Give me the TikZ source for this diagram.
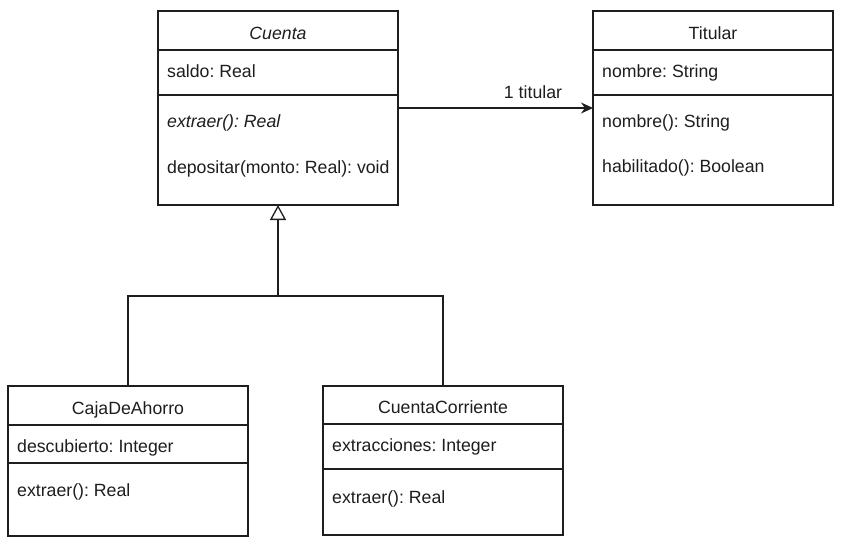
\documentclass[tikz,border=0pt]{standalone}
\usepackage{fontspec}
\setmainfont{Liberation Sans}
\usetikzlibrary{arrows.meta}
\definecolor{ink}{HTML}{1E1E1E}
\frenchspacing
\begin{document}
\begin{tikzpicture}[x=1pt,y=-1pt,
  box/.style={draw=ink, line width=1.3pt, rectangle, inner sep=0pt, outer sep=0pt, minimum width=240pt, anchor=north west},
  sepline/.style={draw=ink, line width=1.3pt},
  txt/.style={anchor=base west, inner sep=0pt, font=\fontsize{17.7}{21}\selectfont\frenchspacing, text=ink},
  ttl/.style={anchor=base, inner sep=0pt, font=\fontsize{17.7}{21}\selectfont\frenchspacing, text=ink},
  assoc/.style={draw=ink, line width=1.3pt, -{Stealth[length=12pt,width=11pt]}},
  inherit/.style={draw=ink, line width=1.3pt, -{Triangle[open,length=15pt,width=16pt]}},
  conn/.style={draw=ink, line width=1.3pt}]
\useasboundingbox[fill=white] (0,0) rectangle (851,544);

% Cuenta
\node[box, minimum height=194pt] (cuenta) at (158,11) {};
\draw[sepline] (158,50) -- (398,50);
\draw[sepline] (158,95) -- (398,95);
\node[ttl] (cuentaT) at (278,39) {\itshape Cuenta};
\node[txt] (cuentaA) at (167,77) {saldo: Real};
\node[txt] (cuentaM1) at (167,127) {\itshape extraer(): Real};
\node[txt] (cuentaM2) at (167,173) {depositar(monto: Real): void};

% Titular
\node[box, minimum height=194pt] (titular) at (593,11) {};
\draw[sepline] (593,50) -- (833,50);
\draw[sepline] (593,95) -- (833,95);
\node[ttl] (titularT) at (713,39) {Titular};
\node[txt] (titularA) at (602,77) {nombre: String};
\node[txt] (titularM1) at (602,127) {nombre(): String};
\node[txt] (titularM2) at (602,172) {habilitado(): Boolean};

% CajaDeAhorro
\node[box, minimum height=150pt] (caja) at (8,386) {};
\draw[sepline] (8,425) -- (248,425);
\draw[sepline] (8,463) -- (248,463);
\node[ttl] (cajaT) at (128,414) {CajaDeAhorro};
\node[txt] (cajaA) at (17,452) {descubierto: Integer};
\node[txt] (cajaM) at (17,496) {extraer(): Real};

% CuentaCorriente
\node[box, minimum height=149pt] (corr) at (323,386) {};
\draw[sepline] (323,424) -- (563,424);
\draw[sepline] (323,469) -- (563,469);
\node[ttl] (corrT) at (443,413) {CuentaCorriente};
\node[txt] (corrA) at (332,451) {extracciones: Integer};
\node[txt] (corrM) at (332,503) {extraer(): Real};

% association
\draw[assoc] (cuenta.east) -- (titular.west);
\node[ttl] (lbl) at (533,98) {1 titular};

% inheritance
\coordinate (join) at (278,296);
\draw[conn] (corr.north) |- (join);
\draw[inherit] (caja.north) |- (join) -- (cuenta.south);
\end{tikzpicture}
\end{document}
